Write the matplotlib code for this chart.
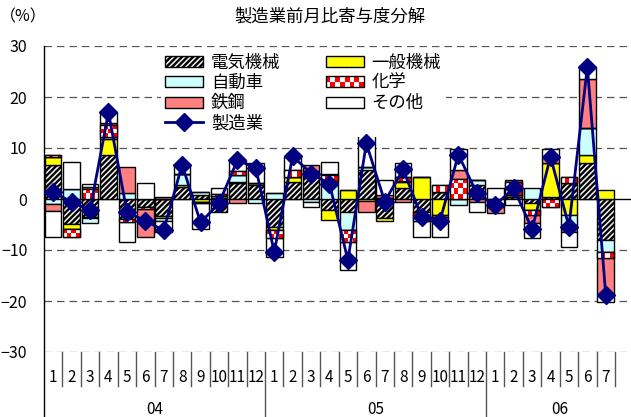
import numpy as np
import matplotlib
matplotlib.use("Agg")
import matplotlib.pyplot as plt
from matplotlib.colors import ListedColormap
from matplotlib.patches import Patch, Rectangle
from matplotlib.lines import Line2D
from matplotlib.legend_handler import HandlerBase

plt.rcParams['font.family'] = ['Noto Sans CJK JP', 'DejaVu Sans']
plt.rcParams['hatch.linewidth'] = 1.7

# ── data (contribution to m/m change, %) ────────────────────────────────
MONTH_LABELS = ["1", "2", "3", "4", "5", "6", "7", "8", "9", "10", "11", "12",
                "1", "2", "3", "4", "5", "6", "7", "8", "9", "10", "11", "12",
                "1", "2", "3", "4", "5", "6", "7"]
YEAR_LABELS = ["04", "05", "06"]

denki   = [6.7, -4.9, -3.5, 8.6, -3.9, -1.5, -3.3, 2.4, 0.8, -2.5, 3.1, 2.7,
           -5.4, 3.4, 5.5, -2.2, -2.5, 5.7, -3.8, 2.1, -2.5, 1.4, 0.0, 2.75,
           0.0, 0.4, -0.85, 0.4, 3.1, 7.0, -8.0]
ippan   = [1.6, -1.0, -0.3, 3.1, 0.0, 0.0, -0.5, 0.3, -0.5, 0.2, 0.3, 0.5,
           -0.7, 1.0, 0.0, -2.0, 1.8, -0.3, -0.5, 1.3, 4.25, -3.1, 0.0, 0.0,
           0.0, 0.3, -1.35, 6.6, -3.1, 1.6, 1.8]
jidosha = [-1.0, 2.0, -0.9, 0.5, 1.2, 0.0, -0.6, 2.3, 0.6, 0.3, 1.4, -0.85,
           1.1, 0.0, -0.5, 3.6, -3.6, 0.6, 0.0, 0.2, 0.0, 0.0, -1.2, 0.95,
           0.0, 0.0, 2.1, 0.0, -2.0, 5.3, -2.3]
kagaku  = [0.3, -1.5, 2.0, 2.3, -0.6, -0.4, 0.0, 0.0, -0.2, 0.4, 0.6, 0.0,
           -1.5, 1.3, 0.0, 1.1, -2.3, 0.0, 0.2, 0.8, -1.9, 1.3, 4.0, 0.0,
           -1.5, 2.6, -0.9, -1.5, 1.3, 0.0, -1.3]
tekko   = [-1.4, 0.0, 0.3, 0.5, 5.1, -5.5, 0.45, 0.0, 0.0, 0.0, -0.85, 0.0,
           0.0, 0.0, 1.2, 0.3, 0.0, -2.2, 0.5, -0.5, 0.0, -0.4, 1.7, -0.5,
           -1.3, 0.4, -1.7, 1.3, -1.3, 9.6, -7.2]
sonota  = [-5.0, 5.2, 0.6, 2.1, -3.9, 3.2, -2.0, 1.8, -5.2, 1.2, 2.2, 3.8,
           -3.7, 2.6, -1.0, 2.3, -5.5, 7.0, 3.0, 2.6, -3.0, -3.9, 4.2, -2.0,
           2.1, -1.2, -2.9, 1.5, -3.1, 2.4, -1.3]
seizo   = [1.4, -0.6, -2.2, 17.0, -2.5, -4.3, -6.1, 6.7, -4.6, -0.85, 7.6, 6.1,
           -10.4, 8.4, 5.0, 3.0, -12.0, 10.9, -0.5, 5.8, -3.5, -4.25, 8.7, 1.1,
           -1.2, 2.1, -5.9, 8.3, -5.4, 25.9, -18.8]

# ── style ───────────────────────────────────────────────────────────────
YELLOW = "#FFFF00"
CYAN   = "#CCFFFF"
PINK   = "#FF8080"
NAVY   = "#000080"
GRID   = "#555555"

SERIES = [
    ("電気機械", denki,   dict(facecolor="#f0f0f0", hatch="//////")),
    ("一般機械", ippan,   dict(facecolor=YELLOW)),
    ("自動車",   jidosha, dict(facecolor=CYAN)),
    ("化学",     kagaku,  dict(facecolor="white")),
    ("鉄鋼",     tekko,   dict(facecolor=PINK)),
    ("その他",   sonota,  dict(facecolor="white")),
]

CHECKER = ListedColormap(["white", "red"])


def checker_fill(ax, patch, nx=4, cell_h=0.9):
    """Red/white checker pattern clipped to one bar."""
    x0, y0 = patch.get_x(), patch.get_y()
    w, h = patch.get_width(), patch.get_height()
    if h == 0:
        return
    ny = max(1, int(round(abs(h) / cell_h)))
    arr = np.add.outer(np.arange(ny), np.arange(nx)) % 2
    im = ax.imshow(arr, cmap=CHECKER, extent=(x0, x0 + w, y0, y0 + h),
                   aspect="auto", interpolation="nearest", zorder=2.05)
    im.set_clip_path(patch)


class CheckerHandler(HandlerBase):
    def create_artists(self, legend, orig_handle, xdescent, ydescent,
                       width, height, fontsize, trans):
        arts = []
        nx, ny = 8, 2
        cw, ch = width / nx, height / ny
        for i in range(nx):
            for j in range(ny):
                if (i + j) % 2:
                    arts.append(Rectangle((-xdescent + i * cw, -ydescent + j * ch),
                                          cw, ch, facecolor="red",
                                          edgecolor="none", transform=trans))
        arts.append(Rectangle((-xdescent, -ydescent), width, height,
                              facecolor="none", edgecolor="black", lw=1,
                              transform=trans))
        return arts


fig = plt.figure(figsize=(6.31, 4.17), dpi=100)
ax = fig.add_axes([44 / 631, 65 / 417, 587 / 631, 306 / 417])

x = np.arange(len(MONTH_LABELS))
pos_base = np.zeros(len(x))
neg_base = np.zeros(len(x))
handles = []
for name, vals, style in SERIES:
    v = np.array(vals)
    bottom = np.where(v >= 0, pos_base, neg_base)
    bars = ax.bar(x, v, bottom=bottom, width=0.9, edgecolor="black",
                  linewidth=1, zorder=2, **style)
    if name == "化学":
        for p in bars.patches:
            checker_fill(ax, p)
        ax.bar(x, v, bottom=bottom, width=0.9, fill=False, edgecolor="black",
               linewidth=1, zorder=2.1)
    pos_base += np.where(v >= 0, v, 0)
    neg_base += np.where(v < 0, v, 0)
    handles.append(Patch(edgecolor="black", linewidth=1, label=name, **style))

ax.plot(x, seizo, color=NAVY, lw=2, marker="D", ms=9, zorder=5)
line_handle = Line2D([], [], color=NAVY, lw=2, marker="D", ms=9, label="製造業")

# grid
for yv in [30, 20, 10, -10, -20, -30]:
    ax.axhline(yv, color=GRID, lw=0.9, ls=(0, (6, 4)), zorder=0)
ax.axhline(0, color="black", lw=1, zorder=1)

ax.set_ylim(-30, 30)
ax.set_xlim(-0.5, 31.37)
ax.set_yticks([30, 20, 10, 0, -10, -20, -30])
ax.tick_params(axis="y", length=0, pad=12, labelsize=11.5)
ax.set_xticks([])
for s in ["top", "right", "bottom", "left"]:
    ax.spines[s].set_visible(False)

# category axis below the plot area
px = 5.1  # pixels per unit
y_px = lambda p: -30 - (p - 352) / px
ax.plot([-0.5, -0.5], [30, y_px(417)], color="black", lw=1, clip_on=False)
for b in np.arange(0.5, 31, 1.0):
    bot = y_px(417) if b in (11.5, 23.5) else y_px(386)
    ax.plot([b, b], [-30, bot], color="#555555", lw=1, clip_on=False)
for xi, lab in zip(x, MONTH_LABELS):
    ax.text(xi, y_px(378), lab, ha="center", va="center", fontsize=11,
            clip_on=False)
for xc, lab in zip([5.5, 17.5, 27.5], YEAR_LABELS):
    ax.text(xc, y_px(409), lab, ha="center", va="center", fontsize=11,
            clip_on=False)

leg_handles = [handles[0], handles[2], handles[4], line_handle,
               handles[1], handles[3], handles[5]]
leg = ax.legend(handles=leg_handles, ncol=2, loc="upper left",
                bbox_to_anchor=(152 / 631, 1 - 41 / 417),
                bbox_transform=fig.transFigure, fontsize=12.5,
                frameon=True, facecolor="white", edgecolor="none",
                framealpha=1, fancybox=False, borderpad=0.25,
                handlelength=2.2, handleheight=0.6, handletextpad=0.45,
                labelspacing=0.12, columnspacing=2.6,
                handler_map={handles[3]: CheckerHandler()})
leg.set_zorder(3)

fig.text(330 / 631, 1 - 17 / 417, "製造業前月比寄与度分解", ha="center",
         va="center", fontsize=12.5)
fig.text(23 / 631, 1 - 17 / 417, "（%）", ha="center", va="center", fontsize=11.5)

fig.savefig("out.png", dpi=100)
